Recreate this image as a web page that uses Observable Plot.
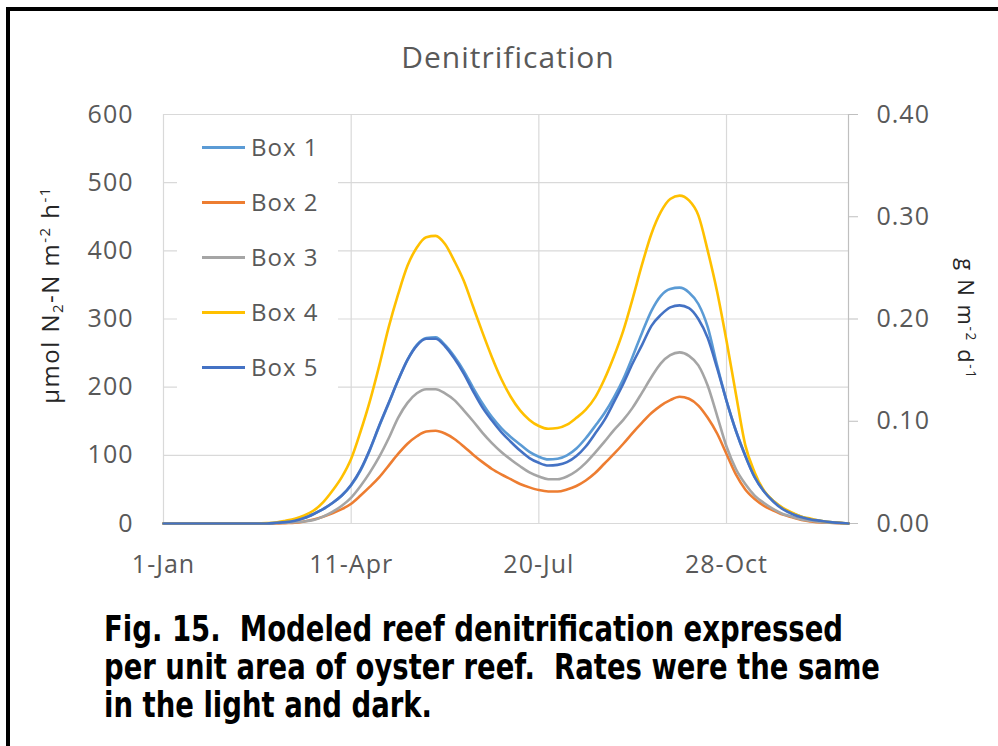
<!DOCTYPE html>
<html><head><meta charset="utf-8">
<script src="https://cdn.jsdelivr.net/npm/d3@7"></script>
<script src="https://cdn.jsdelivr.net/npm/@observablehq/plot@0.6"></script>
<style>
html,body{margin:0;padding:0;background:#fff;overflow:hidden;}
#wrap{position:relative;width:998px;height:746px;overflow:hidden;font-family:"Open Sans",sans-serif;background:#fff;}
#frame{position:absolute;left:6px;top:7px;width:1200px;height:1000px;border-top:4px solid #000;border-left:4px solid #000;}
#chart{position:absolute;left:0;top:0;}
#title{position:absolute;left:0;width:1016px;top:37px;text-align:center;font-size:30px;letter-spacing:1px;color:#595959;line-height:40px;}
.ytitle{position:absolute;white-space:nowrap;color:#262626;line-height:1;}
#ylab{left:50px;top:295px;font-size:24px;letter-spacing:1.5px;transform:translate(-50%,-50%) rotate(-90deg);}
#y2lab{left:967px;top:319px;font-size:22px;letter-spacing:1.6px;transform:translate(-50%,-50%) rotate(90deg);}
.ytitle sup{font-size:0.62em;vertical-align:0.6em;line-height:0;}
.ytitle sub{font-size:0.62em;vertical-align:-0.3em;line-height:0;}
#legend{position:absolute;left:177px;top:125px;width:161px;height:270px;background:#fff;}
.lrow{position:absolute;left:0;width:161px;height:32px;}
.lsw{position:absolute;left:25px;top:14.5px;width:43px;height:3px;}
.ltx{position:absolute;left:74px;top:0;line-height:32px;font-size:24px;letter-spacing:1px;color:#595959;white-space:nowrap;}
#caption{position:absolute;left:104px;top:610px;font-family:"Liberation Sans Narrow","DejaVu Sans Condensed","Roboto Condensed",sans-serif;font-weight:bold;font-size:36px;line-height:38px;color:#000;}
.cl{white-space:pre;transform-origin:0 0;width:max-content;height:38px;}
</style>
</head><body>
<div id="wrap">
  <div id="frame"></div>
  <div id="chart"></div>
  <div id="title">Denitrification</div>
  <div id="ylab" class="ytitle">µmol N<sub>2</sub>-N m<sup>-2</sup> h<sup>-1</sup></div>
  <div id="y2lab" class="ytitle">g N m<sup>-2</sup> d<sup>-1</sup></div>
  <div id="legend"></div>
  <div id="caption"></div>
</div>
<script>
// ---- data (day of year; 0 = 1-Jan) ----
const days = [0,50,55,60,65,70,75,80,85,90,95,100,105,110,115,120,125,130,135,140,145,150,155,160,165,170,175,180,185,190,195,200,205,210,215,220,225,230,235,240,245,250,255,260,265,270,275,280,285,290,295,300,305,310,315,320,325,330,335,340,345,350,355,360,365];
const box1 = [0,0,0,1,2,4,8,14,21,30,41,56,78,108,143,176,210,240,262,272,273,262,245,224,199,176,156,140,127,116,105,98,94,95,100,110,125,143,162,185,212,245,280,312,334,344,346,339,322,288,232,180,136,100,68,47,33,22,15,10,6,4,2,1,0];
const box2 = [0,0,0,0,0.5,1,3,6,10,15,21,29,41,54,68,85,102,117,128,135,136,132,124,113,101,90,80,72,65,58,53,49,47,47,50,55,63,74,88,102,117,133,148,162,173,181,186,183,173,155,132,102,72,50,36,26,19,13,9,5,3,1.5,1,0.5,0];
const box3 = [0,0,0,0.5,1,2,3,5,10,17,26,38,55,75,98,125,155,177,191,197,197,191,181,166,150,133,118,105,94,84,75,69,65,65,69,77,89,104,120,137,152,170,192,215,235,247,251,246,232,202,158,113,80,58,41,30,21,14,10,6,4,2,1,0.5,0];
const box4 = [0,0,0.5,1.5,4,7,12,19,31,48,68,95,135,180,232,288,336,378,405,420,422,410,385,356,318,280,244,212,186,166,152,143,139,140,145,155,167,185,212,245,283,330,380,425,457,476,481,474,452,400,340,268,190,115,75,48,33,23,16,10,7,4,2,1,0];
const box5 = [0,0,0,1,2,4,8,14,21,30,41,57,79,109,144,177,210,240,261,271,271,260,242,220,194,170,151,134,120,107,96,89,85,86,90,99,113,132,152,178,205,235,262,290,306,317,320,316,300,272,228,180,136,99,68,47,32,21,14,9,6,4,2,1,0];

const seriesNames = ["Box 1","Box 2","Box 3","Box 4","Box 5"];
const seriesColors = ["#5B9BD5","#ED7D31","#A5A5A5","#FFC000","#4472C4"];
const seriesValues = [box1, box2, box3, box4, box5];

const xTickDays = [0,100,200,300];
const xTickLabels = ["1-Jan","11-Apr","20-Jul","28-Oct"];
const yTicks = [0,100,200,300,400,500,600];
const y2Ticks = [0,0.1,0.2,0.3,0.4];
const y2Labels = ["0.00","0.10","0.20","0.30","0.40"];
const y2Factor = 600/0.40;

const captionLines = [
  "Fig. 15.  Modeled reef denitrification expressed",
  "per unit area of oyster reef.  Rates were the same",
  "in the light and dark."
];
const captionWidths = [739, 776, 328];

// ---- build table ----
const rows = seriesNames.flatMap((s, k) => days.map((d, i) => ({series: s, day: d, value: seriesValues[k][i]})));
const y2Pos = y2Ticks.map(v => v * y2Factor);

const chart = Plot.plot({
  width: 998, height: 600,
  marginTop: 114, marginBottom: 77, marginLeft: 163, marginRight: 150,
  x: {domain: [0, 365]},
  y: {domain: [0, 600]},
  color: {domain: seriesNames, range: seriesColors},
  style: {fontFamily: "Open Sans", fontSize: "25px", background: "transparent", color: "#595959", letterSpacing: "1px"},
  marks: [
    Plot.gridY(yTicks, {stroke: "#d9d9d9", strokeOpacity: 1, strokeWidth: 1.2}),
    Plot.gridX(xTickDays, {stroke: "#d9d9d9", strokeOpacity: 1, strokeWidth: 1.2}),
    Plot.ruleX([365], {stroke: "#bfbfbf", strokeWidth: 1.2}),
    Plot.axisX(xTickDays, {tickSize: 0, tickPadding: 32, label: null, fill: "#595959",
      tickFormat: d => xTickLabels[xTickDays.indexOf(d)]}),
    Plot.axisY(yTicks, {anchor: "left", tickSize: 0, tickPadding: 30, label: null, fill: "#595959"}),
    Plot.axisY(y2Pos, {anchor: "right", tickSize: 9, tickPadding: 19, label: null, stroke: "#bfbfbf", fill: "#595959",
      tickFormat: d => y2Labels[y2Pos.findIndex(v => Math.abs(v - d) < 1e-6)]}),
    Plot.line(rows, {x: "day", y: "value", z: "series", stroke: "series", strokeWidth: 2.6, curve: "monotone-x"})
  ]
});
document.getElementById("chart").appendChild(chart);

// ---- legend ----
const leg = document.getElementById("legend");
seriesNames.forEach((s, i) => {
  const r = document.createElement("div");
  r.className = "lrow";
  r.style.top = (147 + i * 55 - 125 - 16) + "px";
  const sw = document.createElement("div");
  sw.className = "lsw"; sw.style.background = seriesColors[i];
  const tx = document.createElement("div");
  tx.className = "ltx"; tx.textContent = s;
  r.appendChild(sw); r.appendChild(tx); leg.appendChild(r);
});

// ---- caption ----
const cap = document.getElementById("caption");
captionLines.forEach((t, i) => {
  const d = document.createElement("div");
  d.className = "cl"; d.textContent = t;
  cap.appendChild(d);
  const w = d.getBoundingClientRect().width;
  if (w > 0) d.style.transform = "scaleX(" + (captionWidths[i] / w) + ")";
});
</script>
</body></html>
